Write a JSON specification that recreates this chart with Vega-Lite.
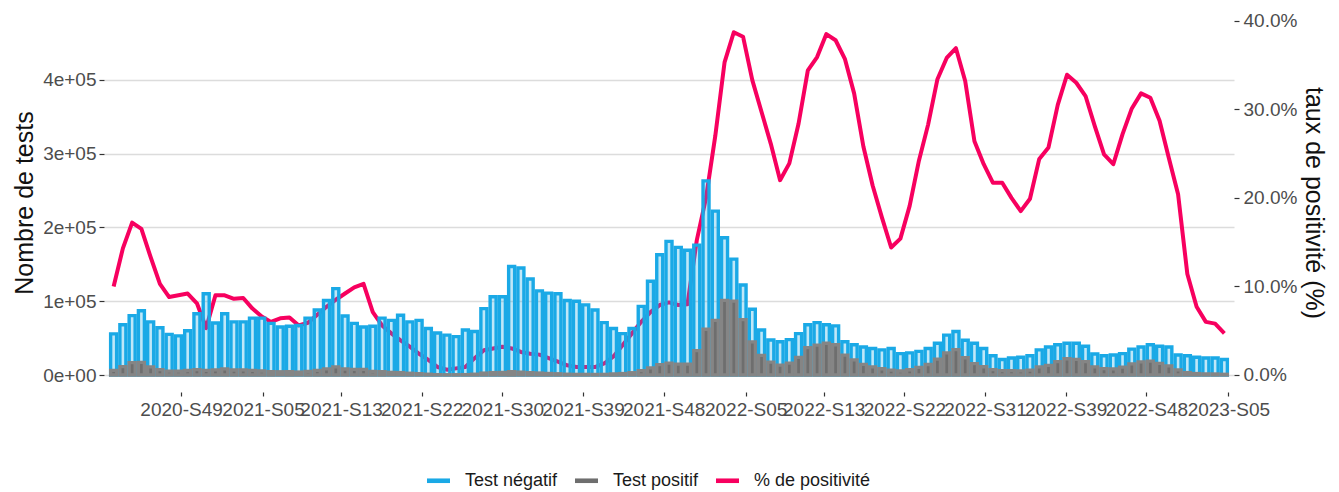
{
  "$schema": "https://vega.github.io/schema/vega-lite/v6.json",
  "width": 1130,
  "height": 379,
  "autosize": {"type": "none"},
  "padding": {"left": 104, "top": 13, "right": 105, "bottom": 100},
  "background": "white",
  "config": {
    "view": {"stroke": null},
    "font": "Liberation Sans",
    "axis": {"domain": false, "labelFontSize": 19, "labelColor": "#4d4d4d", "tickColor": "#333333", "tickWidth": 1.2, "tickSize": 5, "labelPadding": 3, "titleFontSize": 25, "titleFontWeight": "normal", "titleColor": "#111111"}
  },
  "data": {"values": [
    {"semaine": "2020-10-11", "negatif": 55700, "positif": 6200, "taux": 0.100},
    {"semaine": "2020-10-18", "negatif": 68000, "positif": 11300, "taux": 0.143},
    {"semaine": "2020-10-25", "negatif": 80500, "positif": 16700, "taux": 0.172},
    {"semaine": "2020-11-01", "negatif": 87000, "positif": 17200, "taux": 0.165},
    {"semaine": "2020-11-08", "negatif": 72000, "positif": 11000, "taux": 0.133},
    {"semaine": "2020-11-15", "negatif": 64000, "positif": 7300, "taux": 0.103},
    {"semaine": "2020-11-22", "negatif": 55000, "positif": 5300, "taux": 0.088},
    {"semaine": "2020-11-29", "negatif": 53000, "positif": 5200, "taux": 0.090},
    {"semaine": "2020-12-06", "negatif": 60000, "positif": 6100, "taux": 0.092},
    {"semaine": "2020-12-13", "negatif": 83000, "positif": 7300, "taux": 0.081},
    {"semaine": "2020-12-20", "negatif": 110000, "positif": 6200, "taux": 0.053},
    {"semaine": "2020-12-27", "negatif": 70500, "positif": 7000, "taux": 0.090},
    {"semaine": "2021-01-03", "negatif": 83000, "positif": 8200, "taux": 0.090},
    {"semaine": "2021-01-10", "negatif": 72000, "positif": 6800, "taux": 0.086},
    {"semaine": "2021-01-17", "negatif": 72000, "positif": 6900, "taux": 0.087},
    {"semaine": "2021-01-24", "negatif": 77000, "positif": 6200, "taux": 0.075},
    {"semaine": "2021-01-31", "negatif": 77000, "positif": 5400, "taux": 0.066},
    {"semaine": "2021-02-07", "negatif": 70000, "positif": 4500, "taux": 0.060},
    {"semaine": "2021-02-14", "negatif": 65000, "positif": 4400, "taux": 0.064},
    {"semaine": "2021-02-21", "negatif": 66000, "positif": 4600, "taux": 0.065},
    {"semaine": "2021-02-28", "negatif": 67000, "positif": 4000, "taux": 0.056},
    {"semaine": "2021-03-07", "negatif": 77000, "positif": 4800, "taux": 0.059},
    {"semaine": "2021-03-14", "negatif": 88000, "positif": 6400, "taux": 0.068},
    {"semaine": "2021-03-21", "negatif": 101000, "positif": 8400, "taux": 0.077},
    {"semaine": "2021-03-28", "negatif": 117000, "positif": 10900, "taux": 0.085},
    {"semaine": "2021-04-04", "negatif": 80000, "positif": 8100, "taux": 0.092},
    {"semaine": "2021-04-11", "negatif": 70000, "positif": 7700, "taux": 0.099},
    {"semaine": "2021-04-18", "negatif": 65000, "positif": 7500, "taux": 0.103},
    {"semaine": "2021-04-25", "negatif": 66000, "positif": 5000, "taux": 0.071},
    {"semaine": "2021-05-02", "negatif": 77000, "positif": 4600, "taux": 0.056},
    {"semaine": "2021-05-09", "negatif": 74000, "positif": 3600, "taux": 0.047},
    {"semaine": "2021-05-16", "negatif": 81000, "positif": 3300, "taux": 0.039},
    {"semaine": "2021-05-23", "negatif": 72000, "positif": 2400, "taux": 0.032},
    {"semaine": "2021-05-30", "negatif": 74000, "positif": 1800, "taux": 0.024},
    {"semaine": "2021-06-06", "negatif": 63000, "positif": 1100, "taux": 0.017},
    {"semaine": "2021-06-13", "negatif": 57000, "positif": 500, "taux": 0.009},
    {"semaine": "2021-06-20", "negatif": 54000, "positif": 300, "taux": 0.006},
    {"semaine": "2021-06-27", "negatif": 52000, "positif": 400, "taux": 0.0075},
    {"semaine": "2021-07-04", "negatif": 61000, "positif": 550, "taux": 0.009},
    {"semaine": "2021-07-11", "negatif": 59000, "positif": 1100, "taux": 0.019},
    {"semaine": "2021-07-18", "negatif": 90000, "positif": 2600, "taux": 0.028},
    {"semaine": "2021-07-25", "negatif": 106000, "positif": 3300, "taux": 0.030},
    {"semaine": "2021-08-01", "negatif": 106000, "positif": 3500, "taux": 0.032},
    {"semaine": "2021-08-08", "negatif": 147000, "positif": 4500, "taux": 0.030},
    {"semaine": "2021-08-15", "negatif": 145000, "positif": 3900, "taux": 0.026},
    {"semaine": "2021-08-22", "negatif": 130000, "positif": 3200, "taux": 0.024},
    {"semaine": "2021-08-29", "negatif": 114000, "positif": 2700, "taux": 0.023},
    {"semaine": "2021-09-05", "negatif": 111000, "positif": 2100, "taux": 0.019},
    {"semaine": "2021-09-12", "negatif": 110000, "positif": 1700, "taux": 0.015},
    {"semaine": "2021-09-19", "negatif": 101000, "positif": 1100, "taux": 0.011},
    {"semaine": "2021-09-26", "negatif": 100000, "positif": 900, "taux": 0.009},
    {"semaine": "2021-10-03", "negatif": 95000, "positif": 900, "taux": 0.009},
    {"semaine": "2021-10-10", "negatif": 88000, "positif": 800, "taux": 0.009},
    {"semaine": "2021-10-17", "negatif": 71000, "positif": 900, "taux": 0.013},
    {"semaine": "2021-10-24", "negatif": 63000, "positif": 1400, "taux": 0.021},
    {"semaine": "2021-10-31", "negatif": 56000, "positif": 2000, "taux": 0.034},
    {"semaine": "2021-11-07", "negatif": 63000, "positif": 3100, "taux": 0.047},
    {"semaine": "2021-11-14", "negatif": 93000, "positif": 5900, "taux": 0.060},
    {"semaine": "2021-11-21", "negatif": 127000, "positif": 9700, "taux": 0.071},
    {"semaine": "2021-11-28", "negatif": 163000, "positif": 14000, "taux": 0.079},
    {"semaine": "2021-12-05", "negatif": 181000, "positif": 16200, "taux": 0.082},
    {"semaine": "2021-12-12", "negatif": 173000, "positif": 14800, "taux": 0.079},
    {"semaine": "2021-12-19", "negatif": 169000, "positif": 14700, "taux": 0.080},
    {"semaine": "2021-12-26", "negatif": 176000, "positif": 33000, "taux": 0.152},
    {"semaine": "2022-01-02", "negatif": 263000, "positif": 62000, "taux": 0.200},
    {"semaine": "2022-01-09", "negatif": 222000, "positif": 74000, "taux": 0.270},
    {"semaine": "2022-01-16", "negatif": 186000, "positif": 101000, "taux": 0.353},
    {"semaine": "2022-01-23", "negatif": 157000, "positif": 100000, "taux": 0.387},
    {"semaine": "2022-01-30", "negatif": 122000, "positif": 75000, "taux": 0.382},
    {"semaine": "2022-02-06", "negatif": 89000, "positif": 45000, "taux": 0.333},
    {"semaine": "2022-02-13", "negatif": 61000, "positif": 26500, "taux": 0.297},
    {"semaine": "2022-02-20", "negatif": 47500, "positif": 17500, "taux": 0.261},
    {"semaine": "2022-02-27", "negatif": 45000, "positif": 13500, "taux": 0.220},
    {"semaine": "2022-03-06", "negatif": 48000, "positif": 16000, "taux": 0.239},
    {"semaine": "2022-03-13", "negatif": 56000, "positif": 24000, "taux": 0.284},
    {"semaine": "2022-03-20", "negatif": 68000, "positif": 37000, "taux": 0.344},
    {"semaine": "2022-03-27", "negatif": 71000, "positif": 40500, "taux": 0.359},
    {"semaine": "2022-04-03", "negatif": 68000, "positif": 43000, "taux": 0.385},
    {"semaine": "2022-04-10", "negatif": 66500, "positif": 41000, "taux": 0.378},
    {"semaine": "2022-04-17", "negatif": 45000, "positif": 27000, "taux": 0.357},
    {"semaine": "2022-04-24", "negatif": 41000, "positif": 20500, "taux": 0.318},
    {"semaine": "2022-05-01", "negatif": 38000, "positif": 14500, "taux": 0.258},
    {"semaine": "2022-05-08", "negatif": 36000, "positif": 11000, "taux": 0.214},
    {"semaine": "2022-05-15", "negatif": 34000, "positif": 8500, "taux": 0.178},
    {"semaine": "2022-05-22", "negatif": 36000, "positif": 6500, "taux": 0.144},
    {"semaine": "2022-05-29", "negatif": 29000, "positif": 5400, "taux": 0.154},
    {"semaine": "2022-06-05", "negatif": 30000, "positif": 7100, "taux": 0.191},
    {"semaine": "2022-06-12", "negatif": 32000, "positif": 10200, "taux": 0.242},
    {"semaine": "2022-06-19", "negatif": 36000, "positif": 14200, "taux": 0.283},
    {"semaine": "2022-06-26", "negatif": 43000, "positif": 21500, "taux": 0.334},
    {"semaine": "2022-07-03", "negatif": 54000, "positif": 30000, "taux": 0.358},
    {"semaine": "2022-07-10", "negatif": 59000, "positif": 34500, "taux": 0.369},
    {"semaine": "2022-07-17", "negatif": 47000, "positif": 23400, "taux": 0.332},
    {"semaine": "2022-07-24", "negatif": 43000, "positif": 15400, "taux": 0.264},
    {"semaine": "2022-07-31", "negatif": 36000, "positif": 11200, "taux": 0.238},
    {"semaine": "2022-08-07", "negatif": 26000, "positif": 7200, "taux": 0.217},
    {"semaine": "2022-08-14", "negatif": 21000, "positif": 5800, "taux": 0.217},
    {"semaine": "2022-08-21", "negatif": 23000, "positif": 5800, "taux": 0.200},
    {"semaine": "2022-08-28", "negatif": 24000, "positif": 5500, "taux": 0.185},
    {"semaine": "2022-09-04", "negatif": 26000, "positif": 6500, "taux": 0.199},
    {"semaine": "2022-09-11", "negatif": 34000, "positif": 11000, "taux": 0.244},
    {"semaine": "2022-09-18", "negatif": 38000, "positif": 13100, "taux": 0.257},
    {"semaine": "2022-09-25", "negatif": 41000, "positif": 18000, "taux": 0.305},
    {"semaine": "2022-10-02", "negatif": 43000, "positif": 22000, "taux": 0.339},
    {"semaine": "2022-10-09", "negatif": 43000, "positif": 21200, "taux": 0.330},
    {"semaine": "2022-10-16", "negatif": 39000, "positif": 18000, "taux": 0.315},
    {"semaine": "2022-10-23", "negatif": 28500, "positif": 11100, "taux": 0.281},
    {"semaine": "2022-10-30", "negatif": 26000, "positif": 8600, "taux": 0.249},
    {"semaine": "2022-11-06", "negatif": 27000, "positif": 8400, "taux": 0.238},
    {"semaine": "2022-11-13", "negatif": 29000, "positif": 10800, "taux": 0.272},
    {"semaine": "2022-11-20", "negatif": 35000, "positif": 15100, "taux": 0.301},
    {"semaine": "2022-11-27", "negatif": 38000, "positif": 17700, "taux": 0.318},
    {"semaine": "2022-12-04", "negatif": 41000, "positif": 18700, "taux": 0.313},
    {"semaine": "2022-12-11", "negatif": 39000, "positif": 15700, "taux": 0.287},
    {"semaine": "2022-12-18", "negatif": 38000, "positif": 12300, "taux": 0.245},
    {"semaine": "2022-12-25", "negatif": 27000, "positif": 6900, "taux": 0.204},
    {"semaine": "2023-01-01", "negatif": 26000, "positif": 3300, "taux": 0.114},
    {"semaine": "2023-01-08", "negatif": 24000, "positif": 2000, "taux": 0.077},
    {"semaine": "2023-01-15", "negatif": 23000, "positif": 1500, "taux": 0.060},
    {"semaine": "2023-01-22", "negatif": 23000, "positif": 1400, "taux": 0.058},
    {"semaine": "2023-01-29", "negatif": 21000, "positif": 1000, "taux": 0.047}
  ]},
  "encoding": {
    "x": {
      "field": "semaine", "type": "temporal",
      "scale": {"type": "utc", "domain": [{"year": 2020, "month": 10, "date": 7, "hours": 12, "utc": true}, {"year": 2023, "month": 2, "date": 1, "hours": 12, "utc": true}]},
      "axis": {
        "title": null, "grid": false, "tickSize": 4, "labelPadding": 4,
        "labelOverlap": false, "labelFlush": false, "labelBound": false,
        "labelExpr": "utcFormat(datum.value, '%G-S%V')",
        "values": [
          {"year": 2020, "month": 12, "date": 1, "utc": true},
          {"year": 2021, "month": 2, "date": 1, "utc": true},
          {"year": 2021, "month": 4, "date": 1, "utc": true},
          {"year": 2021, "month": 6, "date": 1, "utc": true},
          {"year": 2021, "month": 8, "date": 1, "utc": true},
          {"year": 2021, "month": 10, "date": 1, "utc": true},
          {"year": 2021, "month": 12, "date": 1, "utc": true},
          {"year": 2022, "month": 2, "date": 1, "utc": true},
          {"year": 2022, "month": 4, "date": 1, "utc": true},
          {"year": 2022, "month": 6, "date": 1, "utc": true},
          {"year": 2022, "month": 8, "date": 1, "utc": true},
          {"year": 2022, "month": 10, "date": 1, "utc": true},
          {"year": 2022, "month": 12, "date": 1, "utc": true},
          {"year": 2023, "month": 2, "date": 1, "utc": true}
        ]
      }
    }
  },
  "layer": [
    {
      "mark": {"type": "line", "strokeWidth": 4, "strokeJoin": "round"},
      "encoding": {
        "y": {
          "field": "taux", "type": "quantitative",
          "scale": {"domain": [-0.019196, 0.40876], "nice": false, "zero": false},
          "axis": {"orient": "right", "title": "taux de positivité (%)", "values": [0, 0.1, 0.2, 0.3, 0.4], "format": ".1%", "grid": false, "labelPadding": 4, "titlePadding": 4}
        },
        "color": {
          "datum": "% de positivité", "type": "nominal",
          "scale": {"domain": ["Test négatif", "Test positif", "% de positivité"], "range": ["#1aa9e6", "#6e6e6e", "#f7005f"]},
          "legend": {
            "title": null, "orient": "none", "direction": "horizontal",
            "legendX": 323, "legendY": 456, "padding": 0,
            "symbolType": "M-1,-0.2H1V0.2H-1Z", "symbolSize": 529, "symbolStrokeWidth": 0,
            "labelFontSize": 18, "labelColor": "#1a1a1a", "labelOffset": 15, "columnPadding": 17,
            "encode": {"symbols": {"update": {"fill": {"scale": "color", "field": "value"}, "fillOpacity": {"value": 1}, "opacity": {"value": 1}, "stroke": {"value": "transparent"}}}}
          }
        }
      }
    },
    {
      "layer": [
        {
          "mark": {"type": "bar", "width": 6, "fillOpacity": 0.28, "stroke": "#1aa9e6", "strokeWidth": 3.4},
          "encoding": {
            "y": {
              "field": "negatif", "type": "quantitative",
              "scale": {"domain": [-23035, 490515], "nice": false, "zero": false},
              "axis": {"orient": "left", "title": "Nombre de tests", "values": [0, 100000, 200000, 300000, 400000], "labelExpr": "datum.value == 0 ? '0e+00' : format(datum.value / 100000, 'd') + 'e+05'", "grid": true, "gridColor": "#dcdcdc", "gridWidth": 1.5, "titlePadding": 5}
            },
            "y2": {"datum": 0},
            "color": {"datum": "Test négatif", "type": "nominal"}
          }
        },
        {
          "mark": {"type": "bar", "width": 6, "stroke": "#858585", "strokeWidth": 3.3},
          "encoding": {
            "y": {"field": "positif", "type": "quantitative"},
            "y2": {"datum": 0},
            "color": {"datum": "Test positif", "type": "nominal"}
          }
        }
      ]
    }
  ],
  "resolve": {"scale": {"y": "independent"}}
}
